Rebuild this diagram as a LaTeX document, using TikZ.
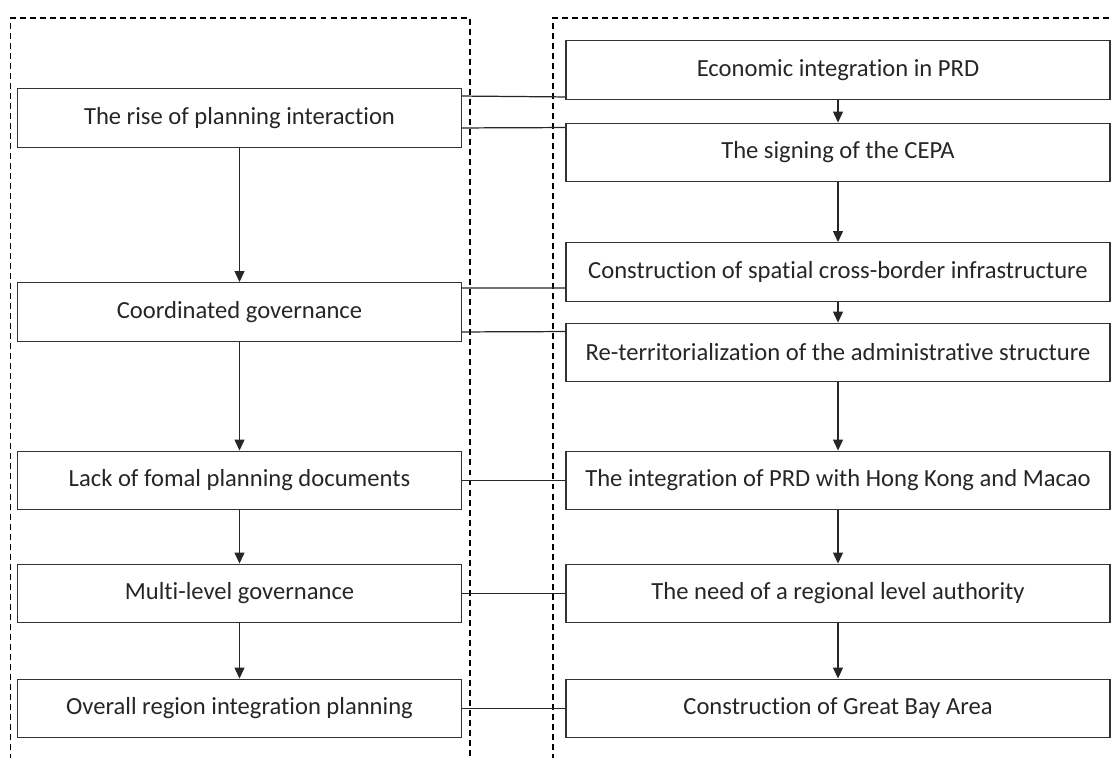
\documentclass[tikz,border=0pt]{standalone}
\usepackage{fontspec}
\setmainfont{Carlito}[Ligatures={NoCommon,NoRare,NoContextual}]
\usetikzlibrary{arrows.meta}

\tikzset{
    stage/.style={draw=black!80, line width=0.8pt, minimum height=1.17cm, text=black!85, font=\fontsize{14}{16}\selectfont},
    leftstage/.style={stage, minimum width=8.87cm},
    rightstage/.style={stage, minimum width=10.88cm},
    flow/.style={draw=black!85, line width=0.7pt, -{Triangle[width=0.2cm,length=0.22cm]}},
    link/.style={draw=black!85, line width=0.7pt},
    frame/.style={draw=black, line width=0.7pt, dash pattern=on 3.4pt off 2.3pt}
}

\begin{document}
\begin{tikzpicture}
        \clip (0,0) rectangle (22.26,-15.16);

        %dashed frames
        \draw[frame] (0.214,-16) -- (0.214,-0.36) -- (9.4,-0.36) -- (9.4,-16);
        \draw[frame] (11.06,-16) -- (11.06,-0.36) -- (23,-0.36);

        %left column
        \node[leftstage] (l1) at (4.79,-2.36) {The rise of planning interaction};
        \node[leftstage] (l2) at (4.79,-6.24) {Coordinated governance};
        \node[leftstage] (l3) at (4.79,-9.61) {Lack of fomal planning documents};
        \node[leftstage] (l4) at (4.79,-11.87) {Multi-level governance};
        \node[leftstage] (l5) at (4.79,-14.17) {Overall region integration planning};

        %right column
        \node[rightstage] (r1) at (16.76,-1.40) {Economic integration in PRD};
        \node[rightstage] (r2) at (16.76,-3.05) {The signing of the CEPA};
        \node[rightstage] (r3) at (16.76,-5.44) {Construction of spatial cross-border infrastructure};
        \node[rightstage] (r4) at (16.76,-7.05) {Re-territorialization of the administrative structure};
        \node[rightstage] (r5) at (16.76,-9.61) {The integration of PRD with Hong Kong and Macao};
        \node[rightstage] (r6) at (16.76,-11.87) {The need of a regional level authority};
        \node[rightstage] (r7) at (16.76,-14.17) {Construction of Great Bay Area};

        %arrows
        \foreach \a/\b in {l1/l2, l2/l3, l3/l4, l4/l5, r1/r2, r2/r3, r3/r4, r4/r5, r5/r6, r6/r7}
            \draw[flow] (\a) -- (\b);

        %connecting lines
        \draw[link] ([yshift=-0.16cm]l1.north east) -- ([yshift=0.06cm]r1.south west);
        \draw[link] ([yshift=0.4cm]l1.south east) -- ([yshift=-0.1cm]r2.north west);
        \draw[link] ([yshift=-0.12cm]l2.north east) -- ([yshift=0.28cm]r3.south west);
        \draw[link] ([yshift=0.2cm]l2.south east) -- ([yshift=-0.18cm]r4.north west);
        \draw[link] (l3) -- (r5);
        \draw[link] (l4) -- (r6);
        \draw[link] (l5) -- (r7);
    \end{tikzpicture}
\end{document}
